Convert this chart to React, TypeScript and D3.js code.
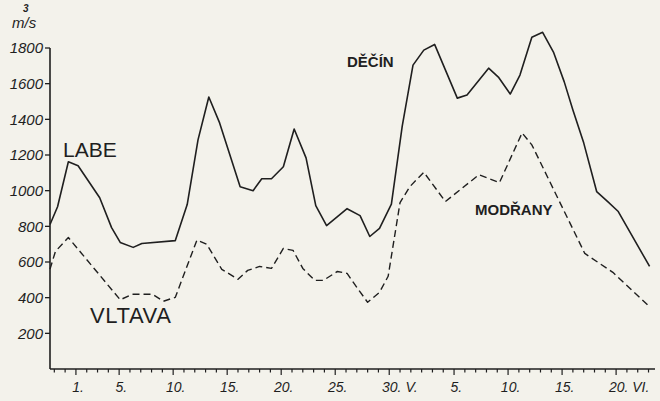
import React from "react";
import * as d3 from "d3";

// Day index: 0 = 1 May, 31 = 1 June
const labeDays = [-2.4, -1.7, -0.7, 0.2, 2.2, 3.3, 4.1, 5.3, 6.1, 9.2, 10.3, 11.3, 12.3, 13.3, 15.2, 16.4, 17.2, 18.1, 19.2, 20.2, 21.3, 22.2, 23.2, 25.1, 26.3, 27.2, 28.1, 29.2, 30.2, 31.2, 32.2, 33.2, 35.3, 36.2, 38.2, 39.1, 40.2, 41.1, 42.2, 43.2, 44.2, 45.2, 46.0, 47.0, 48.2, 49.2, 50.2, 53.1];
const labeValues = [810, 910, 1162, 1140, 960, 793, 710, 682, 704, 720, 922, 1285, 1525, 1380, 1022, 1000, 1067, 1067, 1134, 1346, 1184, 916, 804, 899, 860, 743, 788, 925, 1360, 1704, 1788, 1820, 1519, 1536, 1687, 1637, 1542, 1648, 1860, 1888, 1777, 1610, 1452, 1268, 995, 940, 883, 575];

const vltavaDays = [-2.4, -1.9, -0.7, 4.1, 5.2, 7.1, 8.1, 9.2, 11.2, 12.1, 13.5, 15.0, 15.9, 17.0, 18.1, 19.2, 20.1, 21.0, 22.1, 22.9, 24.2, 25.1, 26.0, 27.0, 28.1, 28.9, 30.0, 30.9, 32.2, 34.2, 37.3, 39.2, 41.3, 42.2, 47.1, 49.7, 53.1];
const vltavaValues = [560, 659, 737, 388, 419, 419, 380, 402, 723, 700, 559, 503, 553, 575, 564, 676, 665, 564, 497, 497, 547, 536, 458, 374, 430, 520, 933, 1022, 1103, 939, 1089, 1045, 1324, 1257, 648, 542, 349];

const yTicks = [200, 400, 600, 800, 1000, 1200, 1400, 1600, 1800];
const xTickDays = [0, 4, 9, 14, 19, 24, 29, 35, 40, 45, 50];
const xTickLabels = ["1.", "5.", "10.", "15.", "20.", "25.", "30. V.", "5.", "10.", "15.", "20. VI."];

const W = 660;
const H = 401;
const ink = "#1f1f1f";

export default function App() {
  const x = d3.scaleLinear().domain([-2.4, 53.6]).range([50, 655]);
  const y = d3.scaleLinear().domain([0, 1800]).range([369, 48]);
  const line = d3
    .line<[number, number]>()
    .x((d) => x(d[0]))
    .y((d) => y(d[1]));
  const labe = labeDays.map((d, i) => [d, labeValues[i]] as [number, number]);
  const vltava = vltavaDays.map((d, i) => [d, vltavaValues[i]] as [number, number]);
  const minorDays = d3.range(-2, 54);
  const numFont = "'Liberation Sans', Arial, sans-serif";

  return (
    <svg
      width={W}
      height={H}
      style={{ position: "absolute", left: 0, top: 0, background: "#f3f2eb" }}
    >
      <rect x={0} y={0} width={W} height={H} fill="#f3f2eb" />
      {/* unit */}
      <text x={12} y={28} fontFamily={numFont} fontStyle="italic" fontSize={15} fill={ink}>
        m/s
      </text>
      <text x={23} y={12} fontFamily={numFont} fontStyle="italic" fontWeight="bold" fontSize={10} fill={ink}>
        3
      </text>
      {/* y axis */}
      <line x1={50} x2={50} y1={y(1800)} y2={y(0)} stroke={ink} strokeWidth={1.6} />
      {yTicks.map((t) => (
        <g key={t}>
          <line x1={45} x2={50} y1={y(t)} y2={y(t)} stroke={ink} strokeWidth={1.3} />
          <text
            x={43}
            y={y(t)}
            dy="0.36em"
            textAnchor="end"
            fontFamily={numFont}
            fontStyle="italic"
            fontSize={15}
            fill={ink}
          >
            {t}
          </text>
        </g>
      ))}
      {/* x axis */}
      <line x1={50} x2={655} y1={y(0)} y2={y(0)} stroke={ink} strokeWidth={1.6} />
      {minorDays.map((d) => (
        <line
          key={d}
          x1={x(d)}
          x2={x(d)}
          y1={y(0)}
          y2={y(0) + (xTickDays.includes(d) ? 6 : 3.5)}
          stroke={ink}
          strokeWidth={1.2}
        />
      ))}
      {xTickDays.map((d, i) => {
        const digits = xTickLabels[i].split(".")[0].length;
        return (
          <text
            key={i}
            x={x(d) - digits * 3.6}
            y={392}
            fontFamily={numFont}
            fontStyle="italic"
            fontSize={14}
            fill={ink}
          >
            {xTickLabels[i]}
          </text>
        );
      })}
      {/* series */}
      <path d={line(labe) || ""} fill="none" stroke={ink} strokeWidth={1.6} strokeLinejoin="round" />
      <path
        d={line(vltava) || ""}
        fill="none"
        stroke={ink}
        strokeWidth={1.4}
        strokeDasharray="7 4"
        strokeLinejoin="round"
      />
      {/* labels */}
      <text x={63} y={157} fontFamily={numFont} fontSize={21} fill={ink}>
        LABE
      </text>
      <text x={90} y={323} fontFamily={numFont} fontSize={22} letterSpacing={0.6} fill={ink}>
        VLTAVA
      </text>
      <text x={347} y={67} fontFamily={numFont} fontWeight="bold" fontSize={15} fill={ink}>
        DĚČÍN
      </text>
      <text x={475} y={215} fontFamily={numFont} fontWeight="bold" fontSize={15} fill={ink}>
        MODŘANY
      </text>
    </svg>
  );
}
